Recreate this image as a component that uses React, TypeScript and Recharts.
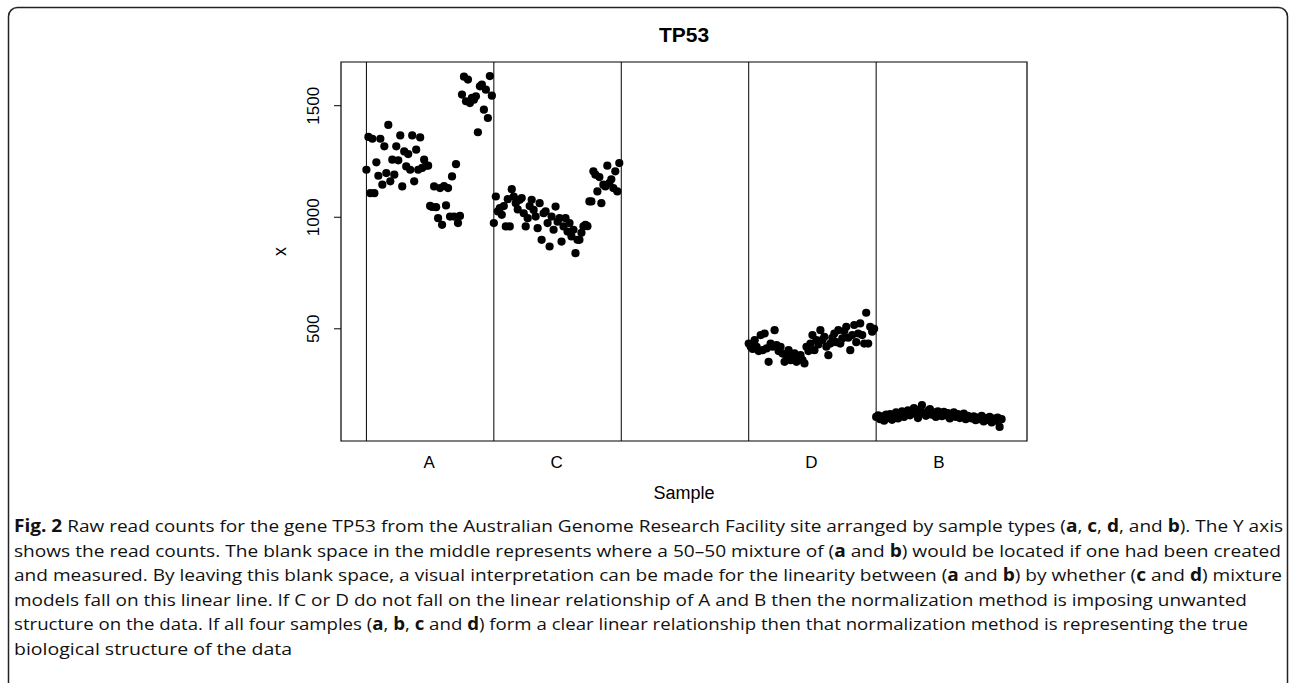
import React from 'react';
import { ScatterChart, Scatter, XAxis, YAxis, ReferenceLine, ReferenceArea, Label } from 'recharts';

// ---------- data ----------
const sampleGroups = ['A', 'C', '', 'D', 'B'];
const groupSize = 64;

const sampleA = [
  1213, 1360, 1108, 1352, 1108, 1246, 1186, 1352, 1146, 1318, 1198, 1414, 1161, 1258, 1191, 1318,
  1255, 1367, 1138, 1295, 1228, 1283, 1213, 1367, 1161, 1303, 1213, 1358, 1221, 1258, 1231, 1231,
  1051, 1046, 1138, 1045, 996, 1131, 966, 1140, 1053, 1131, 1003, 1183, 1003, 1238, 974, 1006,
  1550, 1630, 1520, 1617, 1512, 1535, 1527, 1542, 1381, 1587, 1595, 1482, 1572, 1445, 1633, 1545,
];

const sampleC = [
  974, 1093, 1026, 1041, 1011, 1050, 959, 1081, 959, 1126, 1093, 1063, 1035, 1078, 1086, 1018,
  959, 996, 1050, 1078, 1033, 1003, 951, 1063, 899, 1018, 1026, 974, 869, 1003, 944, 1048,
  980, 996, 891, 959, 996, 936, 974, 914, 944, 839, 899, 899, 930, 959, 966, 960,
  1071, 1071, 1206, 1191, 1116, 1180, 1063, 1146, 1138, 1231, 1153, 1170, 1131, 1206, 1116, 1243,
];

const sampleD = [
  434, 420, 410, 449, 419, 400, 472, 404, 479, 412, 352, 434, 420, 494, 427, 400,
  419, 389, 352, 380, 404, 359, 374, 390, 352, 370, 382, 360, 345, 419, 400, 434,
  472, 404, 449, 430, 494, 450, 464, 420, 382, 434, 460, 479, 440, 494, 434, 457,
  490, 509, 460, 404, 472, 517, 440, 479, 524, 472, 434, 572, 434, 509, 487, 500,
];

const sampleB = [
  105, 112, 95, 108, 88, 115, 100, 118, 92, 110, 125, 98, 120, 130, 105, 115,
  135, 112, 128, 145, 118, 100, 138, 158, 122, 110, 132, 140, 115, 125, 105, 130,
  118, 108, 128, 112, 122, 98, 115, 125, 105, 118, 100, 112, 120, 95, 110, 105,
  98, 108, 90, 102, 95, 110, 85, 100, 92, 105, 80, 98, 88, 102, 60, 95,
];

const yTicks = [500, 1000, 1500];
const chartTitle = 'TP53';
const xTitle = 'Sample';
const yTitle = 'x';

type Seg = [string, boolean];
const captionLines: Seg[][] = [
  [['Fig. 2', true], [' Raw read counts for the gene TP53 from the Australian Genome Research Facility site arranged by sample types (', false], ['a', true], [', ', false], ['c', true], [', ', false], ['d', true], [', and ', false], ['b', true], ['). The Y axis', false]],
  [['shows the read counts. The blank space in the middle represents where a 50\u201350 mixture of (', false], ['a', true], [' and ', false], ['b', true], [') would be located if one had been created', false]],
  [['and measured. By leaving this blank space, a visual interpretation can be made for the linearity between (', false], ['a', true], [' and ', false], ['b', true], [') by whether (', false], ['c', true], [' and ', false], ['d', true], [') mixture', false]],
  [['models fall on this linear line. If C or D do not fall on the linear relationship of A and B then the normalization method is imposing unwanted', false]],
  [['structure on the data. If all four samples (', false], ['a', true], [', ', false], ['b', true], [', ', false], ['c', true], [' and ', false], ['d', true], [') form a clear linear relationship then that normalization method is representing the true', false]],
  [['biological structure of the data', false]],
];
const captionLineEnds = [1283, 1281, 1282, 1247, 1248, 292];

// ---------- derived ----------
const groupValues = [sampleA, sampleC, [] as number[], sampleD, sampleB];
const seriesData = groupValues.map((vals, g) =>
  vals.map((v, i) => ({ idx: g * groupSize + i + 1, x: v }))
);
const nIdx = sampleGroups.length * groupSize;
const xDomain: [number, number] = [1 - 0.04 * (nIdx - 1), nIdx + 0.04 * (nIdx - 1)];
const allVals = groupValues.flat();
const yMin = Math.min(...allVals);
const yMax = Math.max(...allVals);
const yDomain: [number, number] = [yMin - 0.04 * (yMax - yMin), yMax + 0.04 * (yMax - yMin)];
const groupStarts = sampleGroups.map((_, g) => g * groupSize + 1);
const labelTicks = sampleGroups
  .map((lab, g) => ({ lab, pos: g * groupSize + 1 + (groupSize - 1) / 2 }))
  .filter((t) => t.lab !== '');

const FONT = '"Liberation Sans", Arial, sans-serif';

const Dot = (p: any) => <circle cx={p.cx} cy={p.cy} r={4.1} fill="#000" />;

const XTick = (p: any) => {
  const t = labelTicks.find((lt) => Math.abs(lt.pos - p.payload.value) < 1e-6);
  return (
    <text x={p.x} y={p.y + 13} textAnchor="middle" dominantBaseline="central" fontFamily={FONT} fontSize={17} fill="#000">
      {t ? t.lab : ''}
    </text>
  );
};

const YTick = (p: any) => {
  const cx = p.x - 18;
  const cy = p.y;
  return (
    <text x={cx} y={cy} transform={`rotate(-90 ${cx} ${cy})`} textAnchor="middle" dominantBaseline="central" fontFamily={FONT} fontSize={17} fill="#000">
      {p.payload.value}
    </text>
  );
};

export default function App() {
  return (
    <div style={{ position: 'absolute', left: 0, top: 0, width: 1293, height: 683, background: '#fff', overflow: 'hidden' }}>
      <div style={{ position: 'absolute', left: 0, top: 0 }}>
        <ScatterChart width={1293} height={510} margin={{ top: 62, right: 266, bottom: 24, left: 281 }}>
          <XAxis
            dataKey="idx"
            type="number"
            domain={xDomain}
            ticks={labelTicks.map((t) => t.pos)}
            tick={<XTick />}
            tickLine={false}
            axisLine={false}
            height={45}
            allowDataOverflow
          >
            <Label
              content={(props: any) => {
                const vb = props.viewBox;
                return (
                  <text x={vb.x + vb.width / 2} y={493} textAnchor="middle" dominantBaseline="central" fontFamily={FONT} fontSize={18} fill="#000">
                    {xTitle}
                  </text>
                );
              }}
            />
          </XAxis>
          <YAxis
            dataKey="x"
            type="number"
            domain={yDomain}
            ticks={yTicks}
            tick={<YTick />}
            tickSize={7}
            tickLine={{ stroke: '#000', strokeWidth: 1 }}
            axisLine={false}
            width={60}
            allowDataOverflow
          >
            <Label
              content={(props: any) => {
                const vb = props.viewBox;
                const cx = 280;
                const cy = vb.y + vb.height / 2;
                return (
                  <text x={cx} y={cy} transform={`rotate(-90 ${cx} ${cy})`} textAnchor="middle" dominantBaseline="central" fontFamily={FONT} fontSize={18} fill="#000">
                    {yTitle}
                  </text>
                );
              }}
            />
          </YAxis>
          <ReferenceArea
            x1={xDomain[0]}
            x2={xDomain[1]}
            y1={yDomain[0]}
            y2={yDomain[1]}
            fill="none"
            fillOpacity={0}
            stroke="#000"
            strokeWidth={1.2}
            ifOverflow="visible"
          />
          {groupStarts.map((s) => (
            <ReferenceLine key={s} x={s} stroke="#000" strokeWidth={1} ifOverflow="visible" />
          ))}
          {seriesData.map((d, g) =>
            d.length ? (
              <Scatter key={g} name={sampleGroups[g]} data={d} shape={Dot} isAnimationActive={false} />
            ) : null
          )}
        </ScatterChart>
      </div>
      <svg width={1293} height={683} style={{ position: 'absolute', left: 0, top: 0, pointerEvents: 'none' }}>
        <rect x={8.5} y={7.5} width={1279} height={700} rx={9} ry={9} fill="none" stroke="#222" strokeWidth={1.5} />
        <text x={684} y={34} textAnchor="middle" dominantBaseline="central" fontFamily={FONT} fontSize={21} fontWeight="bold" fill="#000">
          {chartTitle}
        </text>
        {captionLines.map((line, k) => (
          <text
            key={k}
            x={14}
            y={532 + k * 24.6}
            textLength={captionLineEnds[k] - 14}
            lengthAdjust="spacingAndGlyphs"
            fontFamily='"Open Sans", "Noto Sans", sans-serif'
            fontSize={17}
            fill="#111"
          >
            {line.map((seg, j) => (
              <tspan key={j} fontWeight={seg[1] ? 'bold' : 'normal'}>
                {seg[0]}
              </tspan>
            ))}
          </text>
        ))}
      </svg>
    </div>
  );
}
